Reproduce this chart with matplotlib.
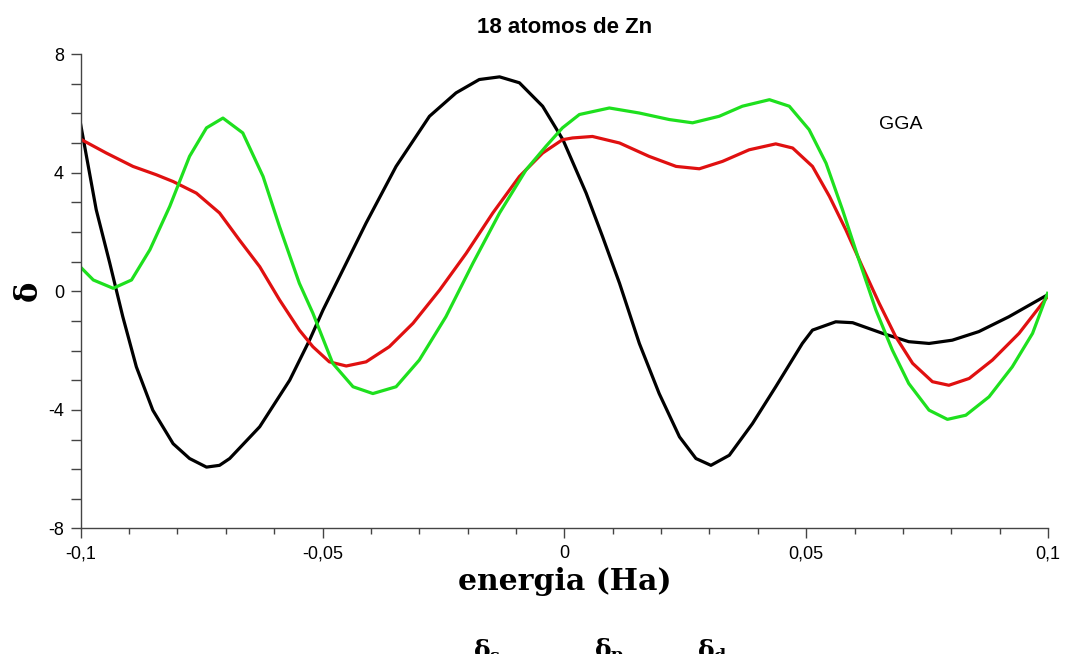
"""
Phase shifts vs energy for the Zn18 cluster (GGA).
"""
import matplotlib
matplotlib.use("Agg")
import matplotlib.pyplot as plt
from matplotlib.ticker import MultipleLocator, FuncFormatter

# energy (Ha) / phase shift samples per channel
energia_s = [-0.1005, -0.0968, -0.0940, -0.0913, -0.0885, -0.0851, -0.0809, -0.0775,
             -0.0740, -0.0713, -0.0692, -0.0630, -0.0568, -0.0527, -0.0499, -0.0451,
             -0.0410, -0.0348, -0.0279, -0.0224, -0.0176, -0.0134, -0.0093, -0.0045,
             -0.0003, 0.0045, 0.0079, 0.0114, 0.0155, 0.0196, 0.0238, 0.0272, 0.0303,
             0.0341, 0.0389, 0.0437, 0.0492, 0.0513, 0.0561, 0.0596, 0.0658, 0.0712,
             0.0754, 0.0802, 0.0857, 0.0919, 0.0999]
delta_s = [6.06, 2.75, 0.95, -0.86, -2.55, -4.01, -5.14, -5.64,
           -5.93, -5.87, -5.64, -4.57, -3.00, -1.65, -0.63, 0.95,
           2.30, 4.21, 5.90, 6.69, 7.14, 7.23, 7.03, 6.24,
           5.11, 3.31, 1.84, 0.27, -1.76, -3.45, -4.91, -5.64, -5.87,
           -5.53, -4.46, -3.22, -1.76, -1.31, -1.03, -1.06, -1.42, -1.70,
           -1.76, -1.65, -1.36, -0.86, -0.12]

energia_p = [-0.1005, -0.0947, -0.0892, -0.0844, -0.0809, -0.0761, -0.0713, -0.0672,
             -0.0630, -0.0589, -0.0548, -0.0520, -0.0486, -0.0451, -0.0410, -0.0362,
             -0.0313, -0.0258, -0.0203, -0.0148, -0.0093, -0.0045, -0.0004, 0.0017,
             0.0058, 0.0114, 0.0175, 0.0231, 0.0279, 0.0327, 0.0382, 0.0437, 0.0472,
             0.0513, 0.0548, 0.0582, 0.0616, 0.0651, 0.0685, 0.0720, 0.0761, 0.0795,
             0.0837, 0.0885, 0.0940, 0.0999]
delta_p = [5.17, 4.66, 4.21, 3.93, 3.70, 3.31, 2.64, 1.73,
           0.83, -0.29, -1.31, -1.87, -2.38, -2.52, -2.38, -1.87,
           -1.08, 0.04, 1.28, 2.64, 3.87, 4.66, 5.11, 5.17,
           5.22, 5.00, 4.55, 4.21, 4.13, 4.38, 4.77, 4.97, 4.83,
           4.21, 3.20, 2.07, 0.83, -0.41, -1.53, -2.43, -3.05, -3.17,
           -2.94, -2.32, -1.42, -0.18]

energia_d = [-0.1005, -0.0974, -0.0933, -0.0895, -0.0857, -0.0816, -0.0775, -0.0740,
             -0.0706, -0.0665, -0.0623, -0.0589, -0.0548, -0.0520, -0.0479, -0.0437,
             -0.0396, -0.0348, -0.0300, -0.0245, -0.0189, -0.0134, -0.0079, -0.0038,
             -0.0004, 0.0031, 0.0093, 0.0155, 0.0217, 0.0265, 0.0320, 0.0368, 0.0424,
             0.0465, 0.0506, 0.0541, 0.0575, 0.0609, 0.0644, 0.0678, 0.0712, 0.0754,
             0.0792, 0.0830, 0.0878, 0.0926, 0.0968, 0.0999]
delta_d = [0.89, 0.38, 0.10, 0.38, 1.40, 2.86, 4.55, 5.51,
           5.84, 5.34, 3.87, 2.18, 0.27, -0.74, -2.43, -3.22,
           -3.45, -3.22, -2.32, -0.86, 0.95, 2.64, 4.10, 4.89,
           5.51, 5.96, 6.18, 6.01, 5.79, 5.68, 5.90, 6.24, 6.46,
           6.24, 5.45, 4.32, 2.75, 1.06, -0.63, -1.98, -3.11, -4.01,
           -4.32, -4.18, -3.56, -2.55, -1.42, -0.07]

canais = ["s", "p", "d"]
cores = ["#000000", "#e01010", "#1ee01e"]

SANS = ["Liberation Sans", "DejaVu Sans"]
SERIF = ["DejaVu Serif"]
plt.rcParams["mathtext.fontset"] = "dejavuserif"

fig = plt.figure(figsize=(10.68, 6.54), dpi=100)
ax = fig.add_axes([0.0756, 0.1919, 0.9057, 0.7255])

for x, y, c in zip([energia_s, energia_p, energia_d], [delta_s, delta_p, delta_d], cores):
    ax.plot(x, y, color=c, linewidth=2.3, solid_joinstyle="round")

ax.set_xlim(-0.1, 0.1)
ax.set_ylim(-8, 8)

for side in ["top", "right"]:
    ax.spines[side].set_visible(False)
for side in ["left", "bottom"]:
    ax.spines[side].set_color("#444444")
    ax.spines[side].set_linewidth(1.0)

ax.xaxis.set_major_locator(MultipleLocator(0.05))
ax.xaxis.set_minor_locator(MultipleLocator(0.01))
ax.yaxis.set_major_locator(MultipleLocator(4))
ax.yaxis.set_minor_locator(MultipleLocator(1))


def virgula(v, pos):
    if abs(v) < 1e-9:
        return "0"
    return f"{v:g}".replace(".", ",")


ax.xaxis.set_major_formatter(FuncFormatter(virgula))
ax.yaxis.set_major_formatter(FuncFormatter(virgula))

ax.tick_params(axis="x", which="major", direction="out", length=7, width=1,
               color="#444444", pad=5, labelsize=13)
ax.tick_params(axis="x", which="minor", direction="out", length=4, width=1,
               color="#444444")
ax.tick_params(axis="y", which="both", direction="out", length=7, width=1,
               color="#444444", pad=5, labelsize=13)
for lab in ax.get_xticklabels() + ax.get_yticklabels():
    lab.set_family(SANS)

ax.set_title("18 atomos de Zn", fontsize=16, fontweight="bold", family=SANS, pad=15)
ax.set_xlabel("energia (Ha)", fontsize=21.5, fontweight="bold", family=SERIF)
ax.xaxis.set_label_coords(0.5, -0.082)
ax.xaxis.label.set_verticalalignment("top")
fig.text(0.026, 0.556, "δ", rotation=90, fontsize=22, fontweight="bold",
         family=SERIF, ha="center", va="center")

ax.text(0.0695, 5.62, "GGA", fontsize=14, family=SANS, ha="center", va="center")

# channel labels below the plot
for xf, canal in zip([0.443, 0.556, 0.653], canais):
    fig.text(xf, 1 - 637 / 654, r"δ$_\mathbf{" + canal + "}$", fontsize=18,
             fontweight="bold", family=SERIF, ha="left", va="top")

fig.savefig("out.png", dpi=100, facecolor="white")
